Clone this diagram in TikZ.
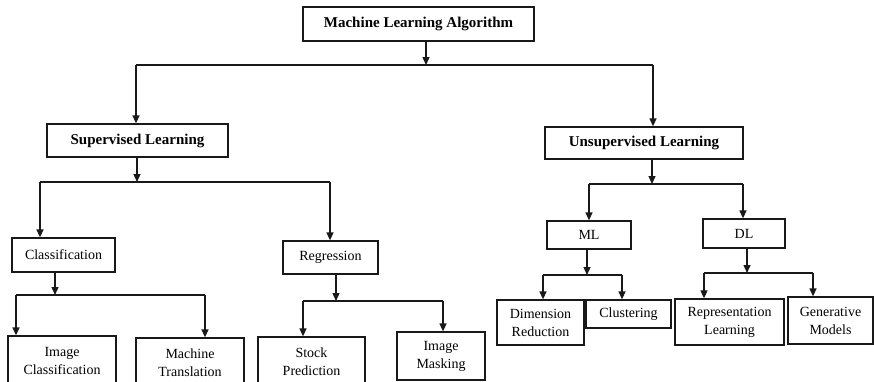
\documentclass[tikz,border=0pt]{standalone}
\usepackage{fontspec}
\setmainfont{Liberation Serif}
\usetikzlibrary{arrows.meta}
\definecolor{LineClr}{RGB}{25,25,25}

\begin{document}
\begin{tikzpicture}[x=1pt,y=-1pt,
  box/.style={draw=LineClr,line width=1.3pt,inner sep=0pt,align=center,text=black},
  topbox/.style={box,font=\fontsize{15}{18}\selectfont\bfseries},
  leafbox/.style={box,font=\fontsize{14}{18}\selectfont},
  bar/.style={draw=LineClr,line width=1.3pt},
  arr/.style={bar,-{Triangle[length=8pt,width=7pt]}}]

\useasboundingbox (0,0) rectangle (874,381);
\clip (0,0) rectangle (874,381);

\node[topbox,minimum width=231pt,minimum height=34pt] (mla) at (418.5,24) {Machine Learning Algorithm};
\node[topbox,minimum width=181pt,minimum height=33pt] (sup) at (137.5,140.5) {Supervised Learning};
\node[topbox,minimum width=198pt,minimum height=32pt] (unsup) at (644,143) {Unsupervised Learning};

\node[leafbox,minimum width=103pt,minimum height=34pt] (cls) at (63.5,255) {Classification};
\node[leafbox,minimum width=95pt,minimum height=33pt] (reg) at (330.5,257.5) {Regression};
\node[leafbox,minimum width=84pt,minimum height=28pt] (ml) at (589,235) {ML};
\node[leafbox,minimum width=82pt,minimum height=29pt] (dl) at (744,233.5) {DL};

\node[leafbox,minimum width=108pt,minimum height=50pt] (imgcls) at (62,361) {Image\\Classification};
\node[leafbox,minimum width=108pt,minimum height=50pt] (mtrans) at (190,363) {Machine\\Translation};
\node[leafbox,minimum width=107pt,minimum height=50pt] (stock) at (311.5,362) {Stock\\Prediction};
\node[leafbox,minimum width=88pt,minimum height=48pt] (mask) at (441,356) {Image\\Masking};

\node[leafbox,minimum width=87pt,minimum height=45pt] (dimred) at (540.5,322.5) {Dimension\\Reduction};
\node[leafbox,minimum width=85pt,minimum height=28pt] (clust) at (628.5,314) {Clustering};
\node[leafbox,minimum width=109pt,minimum height=46pt] (replearn) at (729.5,322) {Representation\\Learning};
\node[leafbox,minimum width=85pt,minimum height=47pt] (genmod) at (830.5,320.5) {Generative\\Models};

\coordinate (mlaJ) at (426,65);
\coordinate (mlaL) at (136,65);
\coordinate (mlaR) at (653,65);
\draw[arr] (mla.south -| mlaJ) -- (mlaJ);
\draw[bar] (mlaL) -- (mlaR);
\draw[arr] (mlaL) -- (mlaL |- sup.north);
\draw[arr] (mlaR) -- (mlaR |- unsup.north);

\coordinate (supJ) at (137,182);
\coordinate (supL) at (40,182);
\coordinate (supR) at (330,182);
\draw[arr] (sup.south -| supJ) -- (supJ);
\draw[bar] (supL) -- (supR);
\draw[arr] (supL) -- (supL |- cls.north);
\draw[arr] (supR) -- (supR |- reg.north);

\coordinate (unsupJ) at (652,184);
\coordinate (unsupL) at (589,184);
\coordinate (unsupR) at (743,184);
\draw[arr] (unsup.south -| unsupJ) -- (unsupJ);
\draw[bar] (unsupL) -- (unsupR);
\draw[arr] (unsupL) -- (unsupL |- ml.north);
\draw[arr] (unsupR) -- (unsupR |- dl.north);

\coordinate (clsJ) at (55,295);
\coordinate (clsL) at (16,295);
\coordinate (clsR) at (205,295);
\draw[arr] (cls.south -| clsJ) -- (clsJ);
\draw[bar] (clsL) -- (clsR);
\draw[arr] (clsL) -- (clsL |- imgcls.north);
\draw[arr] (clsR) -- (clsR |- mtrans.north);

\coordinate (regJ) at (336,301);
\coordinate (regL) at (303,301);
\coordinate (regR) at (443,301);
\draw[arr] (reg.south -| regJ) -- (regJ);
\draw[bar] (regL) -- (regR);
\draw[arr] (regL) -- (regL |- stock.north);
\draw[arr] (regR) -- (regR |- mask.north);

\coordinate (mlJ) at (587,275);
\coordinate (mlL) at (543,275);
\coordinate (mlR) at (622,275);
\draw[arr] (ml.south -| mlJ) -- (mlJ);
\draw[bar] (mlL) -- (mlR);
\draw[arr] (mlL) -- (mlL |- dimred.north);
\draw[arr] (mlR) -- (mlR |- clust.north);

\coordinate (dlJ) at (747,273);
\coordinate (dlL) at (704,273);
\coordinate (dlR) at (813,273);
\draw[arr] (dl.south -| dlJ) -- (dlJ);
\draw[bar] (dlL) -- (dlR);
\draw[arr] (dlL) -- (dlL |- replearn.north);
\draw[arr] (dlR) -- (dlR |- genmod.north);

\end{tikzpicture}
\end{document}
